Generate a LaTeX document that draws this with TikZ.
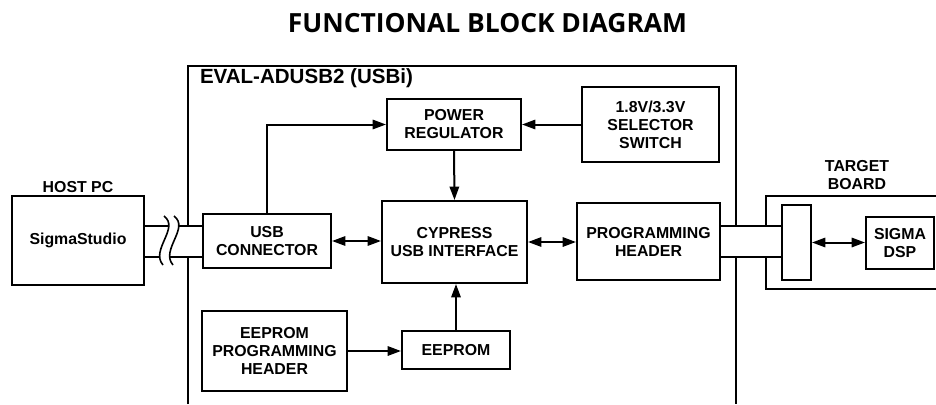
\documentclass[tikz,border=0pt]{standalone}
\usepackage{fontspec}
\setmainfont{Liberation Sans}
\newfontfamily\titlefont{Open Sans}
\usetikzlibrary{arrows.meta}
\tikzset{
  box/.style={draw, line width=1.5pt, inner sep=0pt, align=center,
    font=\fontsize{11.9pt}{13.5pt}\selectfont\bfseries},
  lbl/.style={inner sep=0pt, align=center, font=\fontsize{11.9pt}{13.5pt}\selectfont\bfseries},
  tip/.tip={Triangle[length=10pt,width=7pt]},
  arr/.style={line width=1.5pt, -tip},
  darr/.style={line width=1.5pt, tip-tip},
}
\newcommand\bx[6]{\node[box, minimum width={(#4-#2)*0.75pt}, minimum height={(#5-#3)*0.75pt}] (#1) at ({(#2+#4)/2},{(#3+#5)/2}) {#6};}
\begin{document}
\begin{tikzpicture}[x=0.75pt, y=-0.75pt, line width=1.5pt]
\useasboundingbox (0,0) rectangle (936,404);
% title
\node[inner sep=0pt, font=\titlefont\fontsize{19.8pt}{22pt}\selectfont\bfseries] (title) at (487.5,23) {FUNCTIONAL BLOCK DIAGRAM};
% outer board
\draw (188,404) -- (188,66) -- (736,66) -- (736,404);
\node[lbl, anchor=west, font=\fontsize{15.4pt}{17pt}\selectfont\bfseries] (evlbl) at (199,78) {EVAL-ADUSB2 (USBi)};
% target board
\draw (936,196) -- (766,196) -- (766,289) -- (936,289);
\node[lbl] (tblbl) at (857,175) {TARGET\\BOARD};
% host
\bx{host}{12}{196}{144}{285}{SigmaStudio}
\node[lbl] (hostlbl) at (78,187) {HOST PC};
% blocks
\bx{pr}{387}{99}{521}{150}{POWER\\REGULATOR}
\bx{sel}{582}{87}{719}{162}{1.8V/3.3V\\SELECTOR\\SWITCH}
\bx{usb}{203}{214}{331}{268}{USB\\CONNECTOR}
\bx{cy}{382}{201}{527}{283}{CYPRESS\\USB INTERFACE}
\bx{ph}{577}{203}{720}{280}{PROGRAMMING\\HEADER}
\bx{eph}{202}{311}{347}{391}{EEPROM\\PROGRAMMING\\HEADER}
\bx{ee}{402}{331}{510}{369}{EEPROM}
\bx{tc}{782}{205}{811}{280}{}
\bx{dsp}{866}{217}{934}{269}{SIGMA\\DSP}
% cables (white interior hides the board edges)
\fill[white] (host.east |- 0,226) rectangle (usb.west |- 0,257);
\fill[white] (ph.east |- 0,226) rectangle (tc.west |- 0,257);
\draw (host.east |- 0,226) -- (usb.west |- 0,226);
\draw (host.east |- 0,257) -- (usb.west |- 0,257);
\draw (ph.east |- 0,226) -- (tc.west |- 0,226);
\draw (ph.east |- 0,257) -- (tc.west |- 0,257);
% cable break
\fill[white] (164,216) .. controls (180,228) and (150,250) .. (163,265)
  -- (173,265) .. controls (160,250) and (190,228) .. (174,216) -- cycle;
\draw[line width=1.2pt] (164,216) .. controls (180,228) and (150,250) .. (163,265);
\draw[line width=1.2pt] (174,216) .. controls (190,228) and (160,250) .. (173,265);
% connectors
\draw[arr] (usb.north) |- (pr.west);
\draw[arr] (sel.west) -- (pr.east);
\draw[arr] (pr.south) -- (cy.north);
\draw[arr] (ee.north) -- (ee.north |- cy.south);
\draw[arr] (eph.east) -- (eph.east -| ee.west);
\draw[darr] (usb.east) -- (usb.east -| cy.west);
\draw[darr] (cy.east) -- (cy.east -| ph.west);
\draw[darr] (tc.east) -- (tc.east -| dsp.west);
\end{tikzpicture}
\end{document}
